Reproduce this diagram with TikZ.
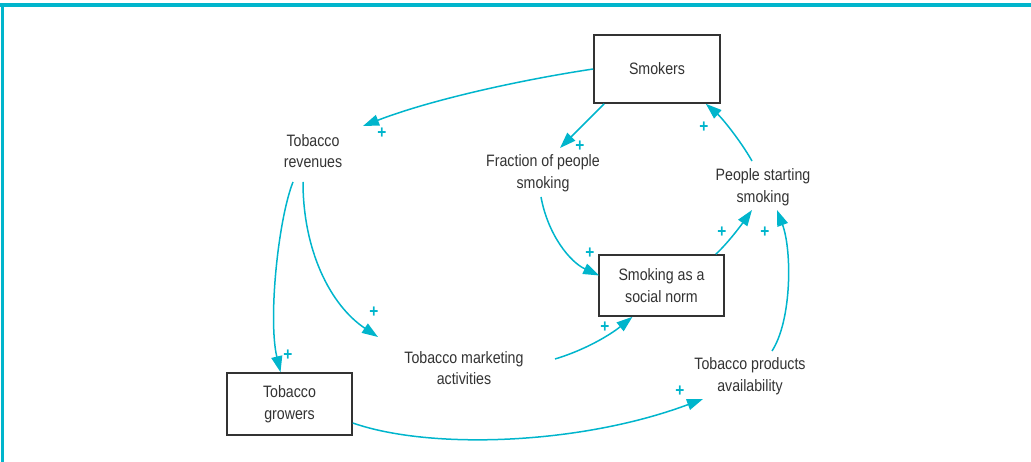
\documentclass[tikz,border=0pt]{standalone}
\usepackage{fontspec}
\setmainfont[FakeStretch=0.86]{Liberation Sans}
\usetikzlibrary{arrows.meta,calc}
\definecolor{cy}{HTML}{00B5CC}
\definecolor{tx}{HTML}{333333}
\tikzset{
  lbl/.style={text=tx,align=center,inner sep=0pt,font=\fontsize{16.5}{21.5}\selectfont},
  boxn/.style={draw=tx,line width=1.6pt,fill=white,minimum width=126pt,minimum height=68pt},
  link/.style={draw=cy,line width=1.5pt,-{Triangle[length=16pt,width=11pt]}},
  pls/.style={text=cy,inner sep=0pt,font=\fontsize{18}{18}\selectfont\bfseries}
}
\begin{document}
\begin{tikzpicture}[x=1pt,y=-1pt]
\useasboundingbox (0,0) rectangle (1031,462);
\draw[cy,line width=3.2pt] (0,5) -- (1031,5);
\draw[cy,line width=2.2pt] (2.5,5) -- (2.5,462);
% nodes
\node[boxn,minimum width=126pt,minimum height=68pt] (smk) at (657,69) {};
\node[lbl] at (smk.center) {Smokers};
\node[boxn,minimum width=125pt,minimum height=61pt] (sn) at (661.5,285.5) {};
\node[lbl] at (sn.center) {Smoking as a\\social norm};
\node[boxn,minimum width=125pt,minimum height=62pt] (gr) at (289.5,404) {};
\node[lbl] at (gr.center) {Tobacco\\growers};
\node[lbl] (rev) at (313,151) {Tobacco\\revenues};
\node[lbl] (fra) at (543,173) {Fraction of people\\smoking};
\node[lbl] (ps) at (763,187) {People starting\\smoking};
\node[lbl] (mkt) at (464,368) {Tobacco marketing\\activities};
\node[lbl] (av) at (750,376) {Tobacco products\\availability};
% connectors
\draw[link] (smk.west) .. controls (520,80) and (430,100) .. ($(rev)+(50,-25)$);
\draw[link] ($(smk.south west)+(11,0)$) -- ($(fra)+(17,-25)$);
\draw[link] ($(ps)+(-11,-26)$) .. controls (740,140) and (722,118) .. ($(smk.south east)+(-15,0)$);
\draw[link] ($(fra)+(-2,24)$) .. controls (548,235) and (570,262) .. ($(sn.west)+(1,-10)$);
\draw[link] ($(sn.north east)+(-9,0)$) .. controls (728,243) and (742,224) .. ($(ps)+(-11,23)$);
\draw[link] ($(av)+(22,-25)$) .. controls (792,320) and (792,250) .. ($(ps)+(14,23)$);
\draw[link] ($(rev)+(-20,31)$) .. controls (278,220) and (268,320) .. ($(gr.north)+(-9,0)$);
\draw[link] ($(rev)+(-10,31)$) .. controls (303,250) and (330,305) .. ($(mkt)+(-86,-31)$);
\draw[link] ($(mkt)+(91,-9)$) .. controls (585,350) and (610,335) .. ($(sn.south)+(-29,0)$);
\draw[link] ($(gr.east)+(0,19)$) .. controls (430,450) and (580,445) .. ($(av)+(-47,23)$);
% polarity signs
\node[pls] (p1) at (382,133) {+};
\node[pls] (p2) at (580,146) {+};
\node[pls] (p3) at (704,127) {+};
\node[pls] (p4) at (590,253) {+};
\node[pls] (p5) at (722,232) {+};
\node[pls] (p6) at (765,232) {+};
\node[pls] (p7) at (288,355) {+};
\node[pls] (p8) at (374,312) {+};
\node[pls] (p9) at (605,327) {+};
\node[pls] (p10) at (680,391) {+};
\end{tikzpicture}
\end{document}
